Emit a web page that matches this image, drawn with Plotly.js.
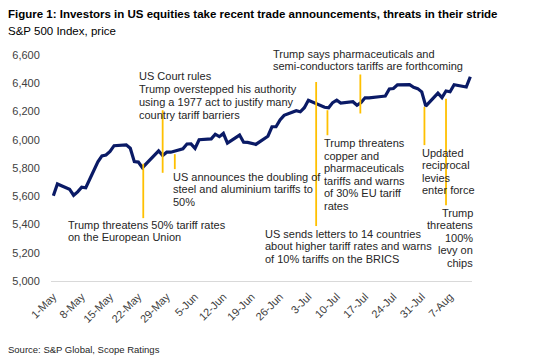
<!DOCTYPE html>
<html>
<head>
<meta charset="utf-8">
<script src="https://cdn.plot.ly/plotly-3.0.1.min.js"></script>
<style>html,body{margin:0;padding:0;background:#fff;}#chart{width:550px;height:359px;}</style>
</head>
<body>
<div id="chart"></div>
<script>
// S&P 500 Index closing prices
const dates = ['2025-05-01','2025-05-02','2025-05-05','2025-05-06','2025-05-07','2025-05-08','2025-05-09',
  '2025-05-12','2025-05-13','2025-05-14','2025-05-15','2025-05-16','2025-05-19','2025-05-20','2025-05-21',
  '2025-05-22','2025-05-23','2025-05-27','2025-05-28','2025-05-29','2025-05-30','2025-06-02','2025-06-03',
  '2025-06-04','2025-06-05','2025-06-06','2025-06-09','2025-06-10','2025-06-11','2025-06-12','2025-06-13',
  '2025-06-16','2025-06-17','2025-06-18','2025-06-20','2025-06-23','2025-06-24','2025-06-25','2025-06-26',
  '2025-06-27','2025-06-30','2025-07-01','2025-07-02','2025-07-03','2025-07-07','2025-07-08','2025-07-09',
  '2025-07-10','2025-07-11','2025-07-14','2025-07-15','2025-07-16','2025-07-17','2025-07-18','2025-07-21',
  '2025-07-22','2025-07-23','2025-07-24','2025-07-25','2025-07-28','2025-07-29','2025-07-30','2025-07-31',
  '2025-08-01','2025-08-04','2025-08-05','2025-08-06','2025-08-07','2025-08-08','2025-08-11','2025-08-12'];
const spx = [5604,5687,5650,5607,5631,5664,5660,
  5844,5886,5892,5917,5958,5964,5940,5845,
  5842,5802,5922,5889,5912,5912,5936,5970,
  5971,5939,6000,6006,6039,6022,6045,5977,
  6033,5982,5981,5967,6025,6092,6092,6141,
  6173,6205,6198,6227,6279,6230,6226,6263,
  6280,6260,6269,6244,6264,6297,6297,6306,
  6309,6359,6363,6389,6390,6371,6362,6339,
  6238,6330,6299,6345,6340,6389,6373,6446];

const tickDates = ['2025-05-01','2025-05-08','2025-05-15','2025-05-22','2025-05-29','2025-06-05','2025-06-12',
  '2025-06-19','2025-06-26','2025-07-03','2025-07-10','2025-07-17','2025-07-24','2025-07-31','2025-08-07'];
const tickLabels = ['1-May','8-May','15-May','22-May','29-May','5-Jun','12-Jun','19-Jun','26-Jun','3-Jul',
  '10-Jul','17-Jul','24-Jul','31-Jul','7-Aug'];
const yTicks = [5000,5200,5400,5600,5800,6000,6200,6400,6600];

// Event markers (date, low and high index level of the leader line)
const eventDates = ['2025-05-23 05:00','2025-05-28 00:00','2025-05-31 00:00','2025-07-04 22:00',
  '2025-07-07 17:00','2025-07-15 20:00','2025-07-31 16:00','2025-08-06 00:00'];
const eventLow  = [5445,5766,5792,5389,6032,6186,5962,5537];
const eventHigh = [5830,6209,5898,6409,6209,6462,6233,6290];
const eventText = [
  ['Trump threatens 50% tariff rates','on the European Union'],
  ['US Court rules','Trump overstepped his authority','using a 1977 act to justify many','country tariff barriers'],
  ['US announces the doubling of','steel and aluminium tariffs to','50%'],
  ['US sends letters to 14 countries','about higher tariff rates and warns','of 10% tariffs on the BRICS'],
  ['Trump threatens','copper and','pharmaceuticals','tariffs and warns','of 30% EU tariff','rates'],
  ['Trump says pharmaceuticals and','semi-conductors tariffs are forthcoming'],
  ['Updated','reciprocal','levies','enter force'],
  ['Trump','threatens','100%','levy on','chips']
];

// layout placement (pixels)
const L = 51, R = 472, T = 55, B = 281;
const W = 550, H = 359;
const textPos = [
  {x:67.5, y:225, lh:12.4, align:'left'},
  {x:138.5, y:75.7, lh:13.1, align:'left'},
  {x:172.7, y:176.7, lh:12.7, align:'left'},
  {x:265, y:234, lh:12.4, align:'left'},
  {x:323.5, y:143.3, lh:12.5, align:'left'},
  {x:273.3, y:54, lh:12.2, align:'left'},
  {x:421.7, y:152.7, lh:12.5, align:'left'},
  {x:473.5, y:212.7, lh:12.5, align:'right'}
];
const px2x = p => (p - L) / (R - L);
const px2y = p => (B - p) / (B - T);

const FONT = 'Liberation Sans, Arial, sans-serif';
const annotations = [];
eventText.forEach((lines, i) => {
  const pos = textPos[i];
  lines.forEach((t, j) => {
    annotations.push({
      xref:'paper', yref:'paper', x:px2x(pos.x), y:px2y(pos.y + j*pos.lh),
      xanchor: pos.align, yanchor:'middle', text:t, showarrow:false,
      borderpad:0, borderwidth:0, align:pos.align,
      font:{family:FONT, size:11, color:'#262626'}
    });
  });
});
annotations.push({xref:'paper', yref:'paper', x:px2x(7), y:px2y(13.5), xanchor:'left', yanchor:'middle',
  text:'<b>Figure 1: Investors in US equities take recent trade announcements, threats in their stride</b>',
  showarrow:false, borderpad:0, font:{family:FONT, size:11.5, color:'#000'}});
annotations.push({xref:'paper', yref:'paper', x:px2x(7), y:px2y(31), xanchor:'left', yanchor:'middle',
  text:'S&P 500 Index, price', showarrow:false, borderpad:0, font:{family:FONT, size:11.5, color:'#000'}});
annotations.push({xref:'paper', yref:'paper', x:px2x(6.5), y:px2y(349), xanchor:'left', yanchor:'middle',
  text:'Source: S&P Global, Scope Ratings', showarrow:false, borderpad:0, font:{family:FONT, size:9.5, color:'#262626'}});

const shapes = eventDates.map((d, i) => ({
  type:'line', xref:'x', yref:'y', x0:d, x1:d, y0:eventLow[i], y1:eventHigh[i],
  line:{color:'#FFC000', width:1.8}, layer:'above'
}));

const trace = {
  x: dates, y: spx, type:'scatter', mode:'lines',
  line:{color:'#0A1A66', width:3.2, shape:'linear'}, hoverinfo:'skip'
};

const layout = {
  width:W, height:H, margin:{l:L, r:W-R, t:T, b:H-B, pad:0},
  paper_bgcolor:'#fff', plot_bgcolor:'#fff', showlegend:false,
  font:{family:FONT, color:'#404040'},
  xaxis:{type:'date', range:['2025-04-30 10:00','2025-08-12 10:00'], tickmode:'array',
    tickvals:tickDates, ticktext:tickLabels, tickangle:-45, showgrid:false, zeroline:false,
    showline:true, linecolor:'#d9d9d9', linewidth:1, ticks:'', ticklabelstandoff:4,
    tickfont:{family:FONT, size:11, color:'#404040'}, fixedrange:true},
  yaxis:{range:[5000,6600], tickmode:'array', tickvals:yTicks, tickformat:',d', showgrid:false, zeroline:false,
    showline:false, ticks:'outside', ticklen:8, tickcolor:'rgba(0,0,0,0)',
    tickfont:{family:FONT, size:11, color:'#404040'}, fixedrange:true},
  shapes:shapes, annotations:annotations
};

Plotly.newPlot('chart', [trace], layout, {displayModeBar:false, staticPlot:true});
</script>
</body>
</html>
